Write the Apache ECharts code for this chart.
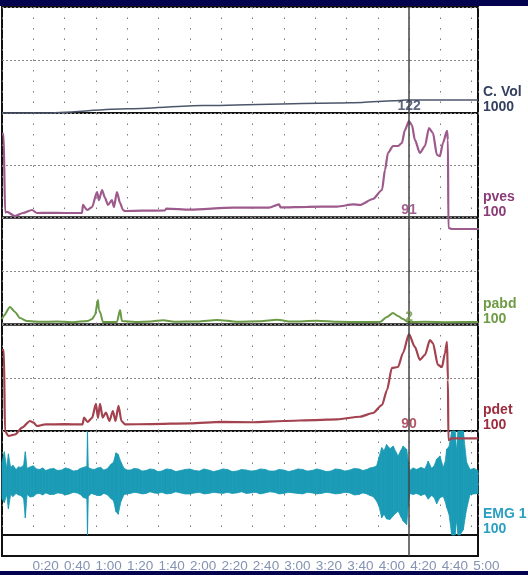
<!DOCTYPE html>
<html>
<head>
<meta charset="utf-8">
<script src="https://cdn.jsdelivr.net/npm/echarts@6/dist/echarts.min.js"></script>
<style>
  html, body { margin: 0; padding: 0; background: #fff; }
  #chart-container { width: 528px; height: 575px; }
</style>
</head>
<body>
<div id="chart-container"></div>
<script>
// time in seconds
const tickLabels = ['0:20', '0:40', '1:00', '1:20', '1:40', '2:00', '2:20', '2:40',
  '3:00', '3:20', '3:40', '4:00', '4:20', '4:40', '5:00'];

const channelNames = ['C. Vol', 'pves', 'pabd', 'pdet', 'EMG 1'];
const channelScales = ['1000', '100', '100', '100', '100'];

const cursorTime = 260;
const cursorValues = [122, 91, 2, 90];

const cVol = [[0, 0], [27, 0], [80, 40], [128, 70], [214, 95], [230, 100], [250, 115], [258, 122], [304, 122]];

const pves = [[0, 80], [1, 80], [2, 5], [3.2, 5.3], [8.3, 1.4], [13.4, 4.3], [19.2, 7.2], [22.3, 4.3],
  [30, 4.5], [40, 4.3], [51.1, 4.3], [51.7, 12], [54.3, 7.2], [57.5, 10], [60.7, 24.4], [61.9, 16.7],
  [63.9, 26.3], [65.8, 18.7], [67.7, 12], [70.2, 16.7], [71.5, 10], [73.4, 24.4], [75.4, 13.9],
  [77.3, 7.2], [78.5, 6.2], [90, 6.5], [104, 6.8], [105, 8.5], [120, 7.5], [147.5, 9.5], [170.5, 9.4],
  [176.9, 12.5], [178, 9.6], [195, 10.2], [214, 10.5], [224.5, 12.5], [228.6, 12], [236.9, 17.7],
  [242.7, 26.3], [244.6, 45.5], [246.5, 61.7], [249.7, 68.4], [252.9, 68.4], [255.4, 71.3],
  [257.3, 83.7], [259.9, 92.3], [261.8, 88.5], [263.7, 74.2], [266.9, 61.7], [270.1, 68.4],
  [272.7, 85.6], [275.2, 80.9], [277.8, 59.8], [279.7, 58.9], [281.6, 71.3], [284.2, 82.8],
  [284.8, 74.2], [285.1, -10], [287.4, -11], [304, -11]];

const pabd = [[0, 5], [1, 8], [5.1, 16.4], [8.3, 11.7], [11.5, 6], [16, 3.3], [25, 2.5], [35, 2.8],
  [45, 2.2], [54.9, 3.3], [57.5, 5.1], [59.4, 8.9], [61.3, 22.9], [61.9, 13.5], [62.6, 11.7],
  [64.5, 2.3], [73.4, 2.3], [75.4, 13.5], [76.6, 3.3], [85, 2.4], [95, 2.8], [102.8, 4], [110, 2.5],
  [125, 2.9], [137.3, 4.2], [150, 2.6], [165, 3], [175.6, 4.5], [185, 2.7], [201, 3.6], [215, 2.5],
  [230, 2.4], [241.4, 2.3], [245.8, 7], [249.7, 10.7], [252.9, 8], [256.1, 5.1], [259.3, 2.3],
  [270, 2.6], [285, 2.2], [304, 2.4]];

const pdet = [[0, 76], [1.2, 76], [1.9, 0], [4.1, -4.7], [8.3, -3.3], [12.8, 3.1], [17.9, 9.4],
  [20.2, 7.8], [22.3, 4.7], [27.5, 6.2], [40, 6.4], [51.4, 6.2], [52.4, 12.6], [54.6, 8.5],
  [57.5, 12.2], [60, 25.4], [61.3, 12.2], [62.6, 25.4], [64.3, 12.6], [66.4, 17.3], [68.6, 9.4],
  [70.8, 18.8], [72.5, 9.4], [74.4, 23.6], [76.3, 9.4], [78.5, 6.2], [95, 6.5], [120, 7.2],
  [140, 8.5], [160, 8.2], [180, 9.4], [200, 10.3], [214, 11], [228.6, 13.4], [236.9, 16.9],
  [242.7, 24.4], [245.9, 38.5], [249, 59.2], [252.9, 60.1], [256.1, 73.2], [259.9, 91],
  [263.7, 78.9], [266.9, 66.7], [270.1, 71.4], [273.3, 85.4], [275.2, 82.6], [278.4, 62],
  [281, 60.1], [282.9, 73.2], [284.2, 83.6], [284.8, 47.9], [285.1, -8.5], [287.4, -7], [304, -7]];

// EMG drawn as an envelope band: [time, upper, lower]
const emgEnvelope = [[0, 40, -30], [1.5, 60, -38], [3, 28, -22], [4.1, 56, -50], [5.5, 30, -22],
  [7, 34, -26], [9, 26, -20], [10.5, 31, -23], [12, 30, -24], [13.8, 34, -30], [14.9, 60, -67],
  [16, 28, -22], [18, 31, -27], [20, 33, -26], [22, 27, -21], [24, 26, -20], [26, 29, -23],
  [28, 24, -19], [30.5, 27, -22], [33, 28, -22], [35.5, 24, -19], [38, 25, -20], [40.5, 29, -23],
  [43, 27, -21], [45.5, 23, -18], [48, 24, -19], [50, 28, -22], [52, 30, -28], [54.2, 32, -30],
  [54.6, 100, -100], [55.1, 30, -26], [57, 27, -20], [59, 26, -22], [61, 29, -24], [63, 30, -24],
  [65, 25, -20], [67, 27, -22], [69.6, 36, -30], [71.2, 40, -34], [72.8, 58, -55], [74.2, 55, -60],
  [76, 40, -35], [78, 28, -22], [80, 25, -21], [82, 25, -20], [84.5, 28, -18], [87, 27, -19],
  [89.5, 23, -21], [92, 24, -20], [94.5, 27, -17], [97, 26, -19], [99.5, 22, -20], [102, 23, -18],
  [105, 27, -21], [108, 26, -20], [111, 22, -17], [114, 24, -19], [117, 26, -21], [120, 27, -21],
  [123, 24, -19], [126, 23, -18], [129, 27, -21], [132, 25, -20], [135, 22, -18], [138, 24, -19],
  [141, 27, -20], [144, 26, -18], [147, 22, -20], [150, 23, -19], [153, 26, -17], [156, 25, -20],
  [159, 23, -19], [162, 24, -18], [165, 27, -21], [168, 26, -19], [171, 23, -17], [174, 23, -18],
  [177, 26, -21], [180, 25, -20], [183, 22, -18], [186, 24, -19], [189, 27, -20], [192, 26, -21],
  [195, 23, -18], [198, 24, -19], [201, 27, -21], [204, 25, -20], [207, 22, -18], [210, 23, -19],
  [213, 27, -21], [216, 26, -20], [219, 23, -18], [222, 25, -19], [225, 28, -23], [228, 27, -22],
  [230.5, 24, -19], [233, 26, -21], [235, 29, -24], [237, 30, -26], [239.3, 33, -35], [240.8, 50, -45],
  [242.5, 68, -67], [244, 62, -60], [245.6, 74, -69], [247.8, 66, -70], [249.9, 71, -63],
  [251.5, 60, -58], [253, 52, -54], [254.6, 62, -64], [256.2, 71, -73], [258.4, 65, -80],
  [259.6, 40, -40], [260.5, 24, -20], [262.5, 29, -22], [264.8, 26, -20], [267.5, 30, -24],
  [270.1, 27, -21], [272.2, 42, -31], [274.4, 28, -24], [276, 33, -28], [277.6, 46, -40],
  [279.7, 52, -28], [281.8, 30, -26], [283, 40, -35], [284, 65, -47], [285.5, 70, -60],
  [287.2, 100, -100], [289.3, 100, -100], [290.3, 62, -72], [291.3, 100, -100], [292.5, 100, -100],
  [294.6, 100, -90], [296.7, 40, -50], [298.9, 26, -22], [301.5, 28, -21], [304, 24, -20]];

// layout
const panelEdges = [7, 113, 217.5, 324.5, 431, 535, 556];
const yRanges = [[0, 1000, 500], [0, 100, 50], [0, 100, 50], [0, 100, 50], [-100, 100, 100], [0, 1, 1]];
const labelColors = ['#34405e', '#8a3b78', '#6e9b45', '#9b2d3f', '#2a9fc0'];
const traceColors = ['#4c566b', '#9d5a8c', '#6a9a45', '#a4434f', '#1b9bb5'];
const FONT = 'Arial, "Liberation Sans", sans-serif';

const chart = echarts.init(document.getElementById('chart-container'), null, { renderer: 'canvas' });

const grids = [];
const xAxes = [];
const yAxes = [];
for (let i = 0; i < 6; i++) {
  grids.push({
    left: 2, right: 50, top: panelEdges[i], height: panelEdges[i + 1] - panelEdges[i],
    show: true, borderColor: '#111', borderWidth: 2, backgroundColor: 'transparent'
  });
  xAxes.push({
    type: 'value', gridIndex: i, min: 0, max: 304, interval: 20,
    axisLine: { show: false }, axisTick: { show: false }, axisLabel: { show: false },
    splitLine: { show: i < 5, lineStyle: { color: '#7a7a7a', width: 1, type: [1.5, 9] } }
  });
  yAxes.push({
    type: 'value', gridIndex: i, min: yRanges[i][0], max: yRanges[i][1], interval: yRanges[i][2],
    axisLine: { show: false }, axisTick: { show: false }, axisLabel: { show: false },
    splitLine: { show: i < 4, lineStyle: { color: '#8a8a8a', width: 1, type: [2, 2] } }
  });
}
// time labels row
grids.push({ left: 30, right: 26, top: 556, height: 1, show: false });
xAxes.push({
  type: 'category', gridIndex: 6, data: tickLabels, boundaryGap: true,
  axisLine: { show: false }, axisTick: { show: false }, splitLine: { show: false },
  axisLabel: { color: '#8393b2', fontSize: 13.5, fontFamily: FONT, margin: 2, interval: 0 }
});
yAxes.push({ type: 'value', gridIndex: 6, min: 0, max: 1, show: false });

const cursorLine = {
  silent: true, symbol: ['none', 'none'], label: { show: false },
  lineStyle: { color: '#444', width: 1.5, type: 'solid', opacity: 1 },
  emphasis: { disabled: true },
  data: [{ xAxis: cursorTime }]
};

function trace(i, data, width) {
  return {
    type: 'line', xAxisIndex: i, yAxisIndex: i, data: data,
    showSymbol: false, symbol: 'none', clip: false, smooth: 0.25, smoothMonotone: 'x',
    lineStyle: { color: traceColors[i], width: width },
    markLine: cursorLine, z: 3
  };
}

// value read at the cursor, printed at the foot of each panel
function cursorLabel(i) {
  return {
    type: 'scatter', xAxisIndex: i, yAxisIndex: i, silent: true, z: 5,
    symbol: 'circle', symbolSize: 0,
    data: [[cursorTime, yRanges[i][0]]],
    label: {
      show: true, position: 'top', distance: 0, formatter: String(cursorValues[i]),
      color: labelColors[i], fontSize: 14, fontWeight: 'bold', fontFamily: FONT
    }
  };
}

// each EMG item is one segment of the envelope between two readings
const emgSegments = emgEnvelope.slice(0, -1).map((p, i) => p.concat(emgEnvelope[i + 1]));

function renderEmg(params, api) {
  const a = api.coord([api.value(0), api.value(1)]);
  const b = api.coord([api.value(3), api.value(4)]);
  const c = api.coord([api.value(3), api.value(5)]);
  const d = api.coord([api.value(0), api.value(2)]);
  return {
    type: 'polygon',
    shape: { points: [a, b, c, d] },
    style: { fill: traceColors[4], stroke: traceColors[4], lineWidth: 0.8 }
  };
}

const series = [
  trace(0, cVol, 1.5),
  trace(1, pves, 2.2),
  trace(2, pabd, 2),
  trace(3, pdet, 2.2),
  {
    type: 'custom', xAxisIndex: 4, yAxisIndex: 4, data: emgSegments,
    renderItem: renderEmg, encode: { x: [0, 3], y: [1, 2, 4, 5] }, silent: true,
    markLine: cursorLine, z: 2
  },
  {
    type: 'line', xAxisIndex: 5, yAxisIndex: 5, data: [[cursorTime, 0.5]],
    showSymbol: false, symbol: 'none', lineStyle: { width: 0 }, markLine: cursorLine
  },
  cursorLabel(0), cursorLabel(1), cursorLabel(2), cursorLabel(3)
];

const graphics = [
  { type: 'rect', left: 0, top: 0, shape: { width: 528, height: 6 }, style: { fill: '#02024e' } },
  { type: 'rect', left: 0, top: 571, shape: { width: 528, height: 4 }, style: { fill: '#02024e' } }
];
channelNames.forEach((name, i) => {
  graphics.push({
    type: 'text', x: 483, y: panelEdges[i + 1] + 2,
    style: {
      text: name + '\n' + channelScales[i], fill: labelColors[i],
      font: 'bold 14px ' + FONT, lineHeight: 15, verticalAlign: 'bottom', align: 'left'
    }
  });
});

chart.setOption({
  animation: false,
  backgroundColor: '#ffffff',
  grid: grids,
  xAxis: xAxes,
  yAxis: yAxes,
  series: series,
  graphic: graphics
});
</script>
</body>
</html>
